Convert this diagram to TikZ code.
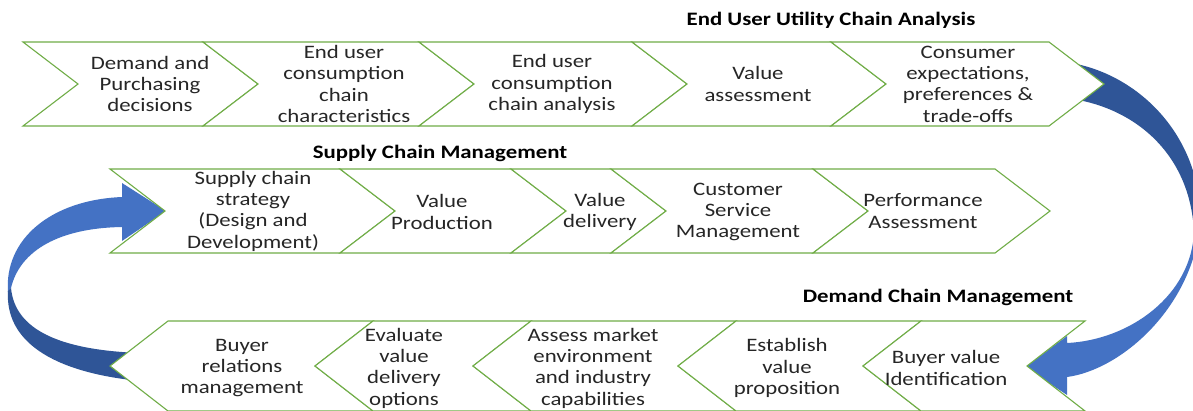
\documentclass[tikz,border=0pt]{standalone}
\usepackage{fontspec}
\setmainfont{Carlito}[FakeStretch=1.2]
\definecolor{cgreen}{HTML}{70AD47}
\definecolor{blight}{HTML}{4472C4}
\definecolor{bdark}{HTML}{2F5597}
\definecolor{txt}{HTML}{262626}
\begin{document}
\begin{tikzpicture}[x=1pt,y=-1pt,
  chev/.style={fill=white,draw=cgreen,line width=1.1pt,line join=miter},
  lbl/.style={align=center,font=\fontsize{19}{21.3}\selectfont,text=txt,inner sep=0pt},
  ttl/.style={font=\fontsize{19}{21}\selectfont\bfseries,text=black,inner sep=0pt},
  darkpart/.style={fill=bdark,draw=none},
  lightpart/.style={fill=blight,draw=none}]
\useasboundingbox (0,0) rectangle (1193,410);
\clip (0,0) rectangle (1193,410);
\fill[white] (0,0) rectangle (1193,410);

% ---- left curved arrow (bottom row -> supply chain row)
\path[lightpart] (8,292) .. controls (4,240) and (50,200) .. (122,197)
  -- (122,183) -- (166,211) -- (122,241) -- (122,227)
  .. controls (60,228) and (20,250) .. (11,288) -- cycle;
\path[darkpart] (8,291) .. controls (5,340) and (50,372) .. (140,381)
  -- (140,353) .. controls (60,350) and (15,330) .. (11,288) -- cycle;

% ---- right curved arrow (top row -> demand chain row)
\path[darkpart] (1065,62) .. controls (1140,72) and (1205,140) .. (1200,228)
  -- (1194,232) .. controls (1190,150) and (1130,105) .. (1065,98) -- cycle;
\path[lightpart] (1200,227) .. controls (1190,310) and (1120,370) .. (1067,377)
  -- (1067,395) -- (1025,367) -- (1067,336) -- (1067,343)
  .. controls (1130,340) and (1192,295) .. (1194,231) -- cycle;

% ---- row 1 chevrons
\foreach \a/\b in {23/203, 203/419, 419/632, 632/831, 831/1049}
  \draw[chev] (\a,42) -- (\b,42) -- ({\b+55},84) -- (\b,126) -- (\a,126) -- ({\a+55},84) -- cycle;
% ---- row 2 chevrons
\foreach \a/\b in {110/340, 340/511, 511/611, 611/813, 813/995}
  \draw[chev] (\a,169) -- (\b,169) -- ({\b+55},211) -- (\b,253) -- (\a,253) -- ({\a+55},211) -- cycle;
% ---- row 3 chevrons (pointing left)
\foreach \a/\b in {110/315, 315/473, 473/678, 678/863, 863/1027}
  \draw[chev] (\a,366) -- ({\a+58},321) -- ({\b+58},321) -- (\b,366) -- ({\b+58},411) -- ({\a+58},411) -- cycle;

% ---- titles
\node[ttl] (h1) at (831,20) {End User Utility Chain Analysis};
\node[ttl] (h2) at (440,153) {Supply Chain Management};
\node[ttl] (h3) at (938,297) {Demand Chain Management};

% ---- row 1 labels
\node[lbl] (a1) at (150,84) {Demand and\\Purchasing\\decisions};
\node[lbl] (a2) at (344,84) {End user\\consumption\\chain\\characteristics};
\node[lbl] (a3) at (552,84) {End user\\consumption\\chain analysis};
\node[lbl] (a4) at (758,84) {Value\\assessment};
\node[lbl] (a5) at (968,84) {Consumer\\expectations,\\preferences \&\\trade-offs};

% ---- row 2 labels
\node[lbl] (b1) at (253,211) {Supply chain\\strategy\\(Design and\\Development)};
\node[lbl] (b2) at (442,212) {Value\\Production};
\node[lbl] (b3) at (600,212) {Value\\delivery};
\node[lbl] (b4) at (738,212) {Customer\\Service\\Management};
\node[lbl] (b5) at (923,211) {Performance\\Assessment};

% ---- row 3 labels
\node[lbl] (c1) at (242,368) {Buyer\\relations\\management};
\node[lbl] (c2) at (404,368) {Evaluate\\value\\delivery\\options};
\node[lbl] (c3) at (593,368) {Assess market\\environment\\and industry\\capabilities};
\node[lbl] (c4) at (787,368) {Establish\\value\\proposition};
\node[lbl] (c5) at (946,368) {Buyer value\\Identification};
\end{tikzpicture}
\end{document}
